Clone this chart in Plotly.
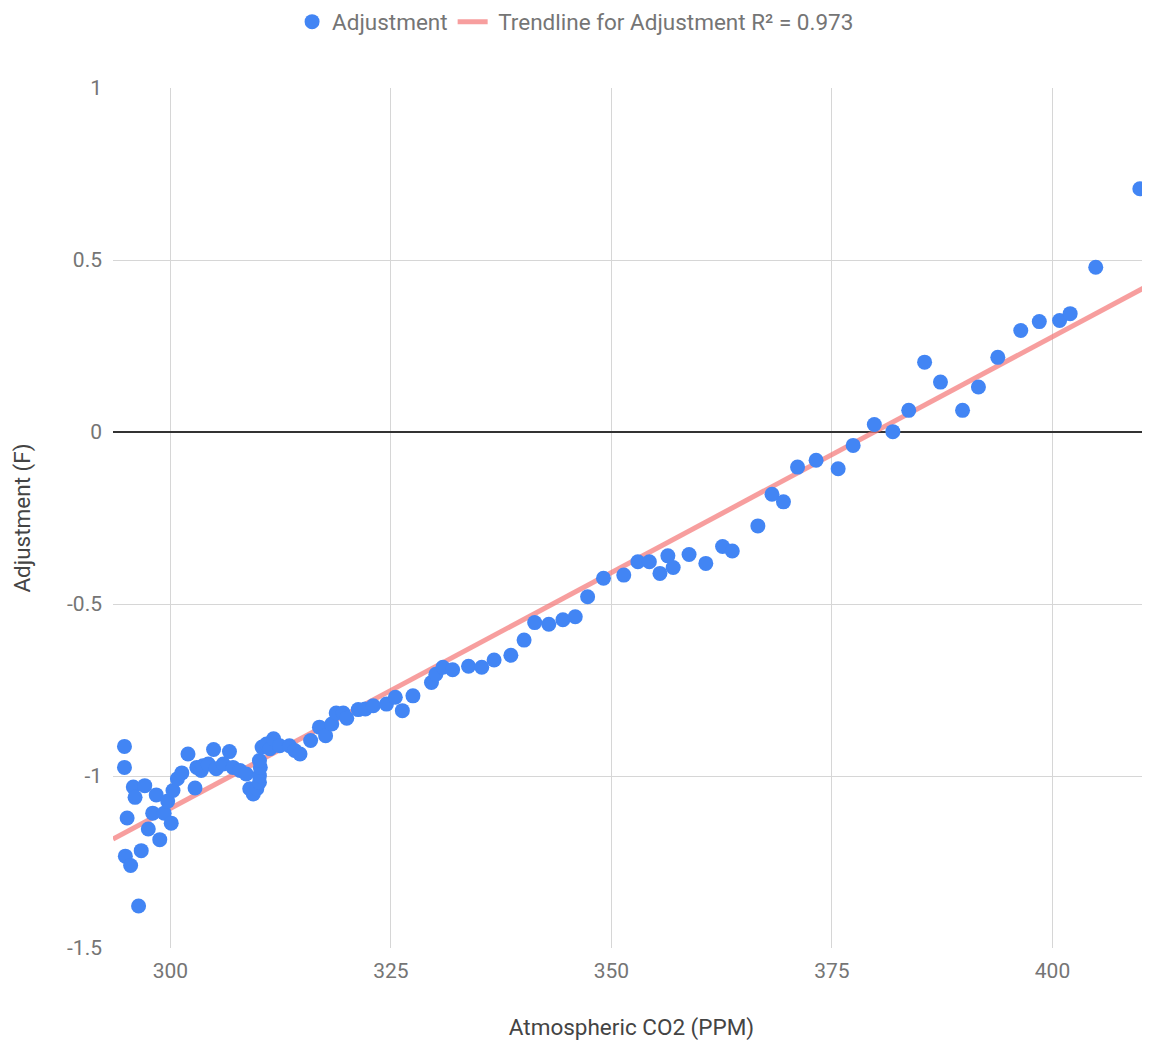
import plotly.graph_objects as go

# Atmospheric CO2 (PPM) vs temperature adjustment (F)
co2 = [
    294.8, 294.8, 295.1, 294.9, 295.5, 295.8, 296.0, 296.4, 296.7, 297.1,
    297.5, 298.0, 298.4, 298.8, 299.3, 299.7, 300.1, 300.3, 300.8, 301.3,
    302.0, 302.8, 303.0, 303.5, 303.7, 304.3, 304.9, 305.2, 306.0, 306.7,
    307.1, 307.9, 308.6, 309.0, 309.4, 309.8, 310.1, 310.1, 310.2, 310.1,
    310.4, 310.9, 311.3, 311.7, 312.4, 313.5, 314.1, 314.7, 315.9, 316.9,
    317.6, 318.3, 318.8, 319.6, 320.0, 321.3, 322.1, 323.0, 324.5, 325.5,
    326.3, 327.5, 329.6, 330.1, 330.9, 332.0, 333.8, 335.3, 336.7, 338.6,
    340.1, 341.3, 342.9, 344.5, 345.9, 347.3, 349.1, 351.4, 353.0, 354.3,
    355.5, 356.4, 357.0, 358.8, 360.7, 362.6, 363.7, 366.6, 368.2, 369.5,
    371.1, 373.2, 375.7, 377.4, 379.8, 381.9, 383.7, 385.5, 387.3, 389.8,
    391.6, 393.8, 396.4, 398.5, 400.8, 402.0, 404.9, 409.9,
]
adjustment = [
    -0.914, -0.975, -1.122, -1.233, -1.260, -1.032, -1.062, -1.378, -1.217, -1.028,
    -1.154, -1.108, -1.055, -1.185, -1.108, -1.073, -1.137, -1.042, -1.008, -0.991,
    -0.936, -1.035, -0.975, -0.984, -0.970, -0.965, -0.923, -0.979, -0.965, -0.929,
    -0.975, -0.984, -0.994, -1.037, -1.052, -1.037, -1.018, -0.999, -0.975, -0.955,
    -0.916, -0.907, -0.921, -0.892, -0.912, -0.912, -0.926, -0.936, -0.897, -0.858,
    -0.883, -0.849, -0.817, -0.817, -0.832, -0.807, -0.805, -0.796, -0.791, -0.771,
    -0.810, -0.767, -0.728, -0.704, -0.684, -0.691, -0.681, -0.684, -0.663, -0.649,
    -0.605, -0.554, -0.559, -0.546, -0.537, -0.479, -0.425, -0.416, -0.377, -0.377,
    -0.411, -0.360, -0.394, -0.356, -0.382, -0.333, -0.346, -0.273, -0.181, -0.203,
    -0.102, -0.082, -0.107, -0.039, 0.022, 0.001, 0.063, 0.203, 0.145, 0.063,
    0.131, 0.217, 0.295, 0.321, 0.324, 0.344, 0.479, 0.707,
]

# trendline as drawn on the chart: adjustment = slope * co2 + intercept
trend_slope = 0.01371
trend_intercept = -5.207
r_squared_label = "0.973"

x_tick_vals = [300, 325, 350, 375, 400]
x_tick_text = ["300", "325", "350", "375", "400"]
y_tick_vals = [-1.5, -1, -0.5, 0, 0.5, 1]
y_tick_text = ["-1.5", "-1", "-0.5", "0", "0.5", "1"]
x_range = [293.5, 411.05]
y_range = [-1.5, 1]

trend_x = list(x_range)
trend_y = [trend_slope * v + trend_intercept for v in trend_x]

FONT = "Roboto, Arial, sans-serif"
GRAY = "#757575"

# the page body adds an 8px margin, so the figure is sized to fit the window
W, H = 1142, 1033

fig = go.Figure()
fig.add_trace(go.Scatter(
    x=trend_x, y=trend_y, mode="lines",
    name="\u00a0Trendline for Adjustment R\u00b2 = " + r_squared_label,
    line=dict(color="rgba(244,120,120,0.72)", width=5),
    hoverinfo="skip",
))
fig.add_trace(go.Scatter(
    x=co2, y=adjustment, mode="markers", name="Adjustment",
    marker=dict(color="#4285F4", size=15, line=dict(width=0)),
    cliponaxis=False,
))

fig.update_layout(
    width=W, height=H,
    margin=dict(l=105, r=0, t=80, b=93, autoexpand=False),
    paper_bgcolor="white", plot_bgcolor="white",
    font=dict(family=FONT, size=21, color=GRAY),
    legend=dict(
        orientation="h", x=0.497, xanchor="center", xref="container",
        y=1 - 14 / H, yanchor="middle", yref="container",
        traceorder="reversed",
        font=dict(family=FONT, size=22.5, color=GRAY),
        itemwidth=30,
    ),
    showlegend=True,
)
fig.update_xaxes(
    range=x_range, tickvals=x_tick_vals, ticktext=x_tick_text,
    showgrid=True, gridcolor="#d6d6d6", gridwidth=1,
    zeroline=False, showline=False, ticks="", automargin=False,
    ticklabelstandoff=8,
    tickfont=dict(family=FONT, size=21, color=GRAY),
    title=dict(text="Atmospheric CO2 (PPM)", font=dict(family=FONT, size=22.5, color="#444"), standoff=38),
)
fig.update_yaxes(
    range=y_range, tickvals=y_tick_vals, ticktext=y_tick_text,
    showgrid=True, gridcolor="#d6d6d6", gridwidth=1,
    zeroline=True, zerolinecolor="#333333", zerolinewidth=1.5,
    showline=False, ticks="", automargin=False,
    ticklabelstandoff=10,
    tickfont=dict(family=FONT, size=21, color=GRAY),
    title=dict(text="Adjustment (F)", font=dict(family=FONT, size=22.5, color="#444"), standoff=30),
)

fig.write_html("out.html")
